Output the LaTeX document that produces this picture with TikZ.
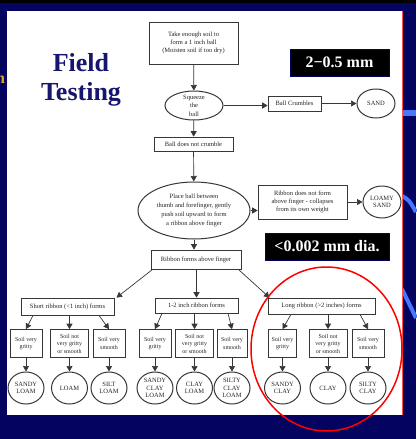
\documentclass[tikz,border=0pt]{standalone}
\usepackage{fontspec}
\setmainfont{Liberation Serif}
\usetikzlibrary{shapes.geometric,arrows.meta}
\definecolor{navy}{RGB}{4,4,96}
\definecolor{titleblue}{RGB}{22,22,110}
\definecolor{lineg}{RGB}{55,55,55}
\definecolor{streak}{RGB}{70,120,255}
\definecolor{edgeorange}{RGB}{225,165,40}
\begin{document}
\begin{tikzpicture}[x=1pt,y=-1pt,
  fbox/.style={draw=lineg,line width=0.7pt,fill=white,inner sep=0pt,align=center,
    font=\fontsize{6.5}{8}\selectfont,text=black!85},
  oval/.style={ellipse,draw=lineg,line width=1pt,fill=white,inner sep=-3pt,align=center,
    font=\fontsize{6.5}{7.6}\selectfont,text=black!85},
  arr/.style={draw=lineg,line width=0.7pt,-{Triangle[length=5.5pt,width=6pt]}},
  tag/.style={fill=black,draw=navy,inner sep=0pt,text=white,
    font=\bfseries\fontsize{16}{18}\selectfont},
  ttl/.style={text=titleblue,font=\bfseries\fontsize{26}{29}\selectfont,anchor=base}]
\useasboundingbox (0,0) rectangle (416,439);
% background
\fill[navy] (0,0) rectangle (416,439);
\fill[black] (0,0) rectangle (416,3);
\draw[streak,line width=6pt] (402,113) -- (416,113);
\draw[streak,line width=4pt] (402,196) .. controls (409,200) .. (416,212);
\draw[streak,line width=4pt] (402,289) -- (416,318);
\fill[white] (7,11) rectangle (402,415);
\draw[red!70,line width=0.6pt] (402,11) -- (402,415);
\node[anchor=base west,text=edgeorange,font=\bfseries\fontsize{16}{16}\selectfont,inner sep=0pt] (edgen) at (-4,83) {n};
% title
\node[ttl] (title1) at (81,71) {Field};
\node[ttl] (title2) at (81,100) {Testing};
% tags
\node[tag,minimum width=99pt,minimum height=27pt] (tag1) at (339.5,62.5) {2−0.5 mm};
\node[tag,minimum width=124pt,minimum height=27pt] (tag2) at (327,246.5) {<0.002 mm dia.};
% flowchart
\node[fbox,minimum width=89pt,minimum height=42pt] (n1) at (193.5,43)
  {Take enough soil to\\form a 1 inch ball\\(Moisten soil if too dry)};
\node[oval,minimum width=58pt,minimum height=29pt,font=\fontsize{6.5}{8.5}\selectfont] (squeeze) at (194,105.5) {Squeeze\\the\\ball};
\node[fbox,minimum width=79pt,minimum height=14pt] (crumble) at (193.5,144) {Ball does not crumble};
\node[fbox,minimum width=53pt,minimum height=15pt] (ballcr) at (294.5,103.5) {Ball Crumbles};
\node[oval,minimum width=38pt,minimum height=29pt] (sand) at (376,103.5) {SAND};
\node[oval,minimum width=112pt,minimum height=57pt,font=\fontsize{6.5}{9}\selectfont] (place) at (194,210.5)
  {Place ball between\\thumb and forefinger, gently\\push soil upward to form\\a ribbon above finger};
\node[fbox,minimum width=89pt,minimum height=34pt] (ribno) at (302.5,202)
  {Ribbon does not form\\above finger - collapses\\from its own weight};
\node[oval,minimum width=38pt,minimum height=32pt] (loamy) at (382,202) {LOAMY\\SAND};
\node[fbox,minimum width=90pt,minimum height=19pt] (ribyes) at (196,259.5) {Ribbon forms above finger};
\node[fbox,minimum width=93pt,minimum height=17pt] (short) at (67.5,306.5) {Short ribbon (<1 inch) forms};
\node[fbox,minimum width=83pt,minimum height=15pt] (mid) at (196.5,305.5) {1-2 inch ribbon forms};
\node[fbox,minimum width=107pt,minimum height=16pt] (long) at (321.5,306) {Long ribbon (>2 inches) forms};
% level 4
\foreach \nm/\xx/\ww/\tx in {
  g1a/26/32/{Soil very\\gritty}, g1b/69.5/38/{Soil not\\very gritty\\or smooth}, g1c/109/32/{Soil very\\smooth},
  g2a/155/32/{Soil very\\gritty}, g2b/194.5/38/{Soil not\\very gritty\\or smooth}, g2c/232/30/{Soil very\\smooth},
  g3a/282.5/28/{Soil very\\gritty}, g3b/328/38/{Soil not\\very gritty\\or smooth}, g3c/368/32/{Soil very\\smooth}}
  {\node[fbox,minimum width=\ww pt,minimum height=28pt,font=\fontsize{6}{7.5}\selectfont] (\nm) at (\xx,343.5) {\tx};}
% level 5
\foreach \nm/\xx/\tx in {
  e1a/26/{SANDY\\LOAM}, e1b/69.5/{LOAM}, e1c/109/{SILT\\LOAM},
  e2a/155/{SANDY\\CLAY\\LOAM}, e2b/194.5/{CLAY\\LOAM}, e2c/232/{SILTY\\CLAY\\LOAM},
  e3a/282.5/{SANDY\\CLAY}, e3b/328/{CLAY}, e3c/368/{SILTY\\CLAY}}
  {\node[oval,minimum width=36pt,minimum height=32pt] (\nm) at (\xx,388) {\tx};}
% connectors
\draw[arr] (n1) -- (squeeze);
\draw[arr] (squeeze) -- (crumble);
\draw[arr] (squeeze.east) -- (squeeze.east -| ballcr.west);
\draw[arr] (ballcr) -- (sand);
\draw[arr] (crumble) -- (place);
\draw[arr] (place.east) -- (place.east -| ribno.west);
\draw[arr] (ribno) -- (loamy);
\draw[arr] (place) -- (place.south |- ribyes.north);
\draw[arr] ([xshift=2pt]ribyes.south west) -- ([xshift=49pt]short.north);
\draw[arr] (ribyes.south -| mid.north) -- (mid.north);
\draw[arr] ([xshift=-3pt]ribyes.south east) -- ([xshift=-52pt]long.north);
\draw[arr] ([xshift=-34.5pt]short.south) -- (g1a.north);
\draw[arr] (short.south -| g1b.north) -- (g1b.north);
\draw[arr] ([xshift=31.5pt]short.south) -- (g1c.north);
\draw[arr] ([xshift=-34.5pt]mid.south) -- (g2a.north);
\draw[arr] (mid.south -| g2b.north) -- (g2b.north);
\draw[arr] ([xshift=31.5pt]mid.south) -- (g2c.north);
\draw[arr] ([xshift=-30.5pt]long.south) -- (g3a.north);
\draw[arr] (long.south -| g3b.north) -- (g3b.north);
\draw[arr] ([xshift=38.5pt]long.south) -- (g3c.north);
\foreach \a/\b in {g1a/e1a,g1b/e1b,g1c/e1c,g2a/e2a,g2b/e2b,g2c/e2c,g3a/e3a,g3b/e3b,g3c/e3c}
  {\draw[arr] (\a) -- (\b);}
% red highlight
\draw[red,line width=1.5pt] (326.5,349) ellipse [x radius=75.5pt, y radius=82pt];
\end{tikzpicture}
\end{document}
